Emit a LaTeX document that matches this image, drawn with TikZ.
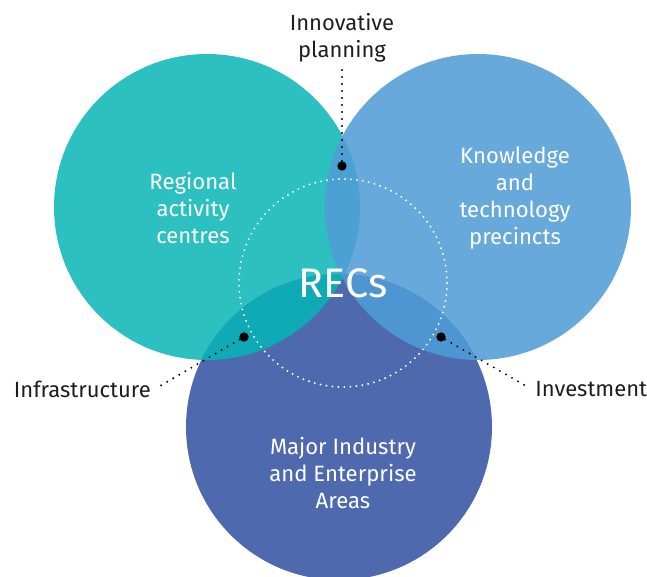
\documentclass[tikz,border=0pt]{standalone}
\usepackage{fontspec}
\setmainfont{Fira Sans}
\usetikzlibrary{positioning}

\definecolor{racTeal}{HTML}{2CC0C1}
\definecolor{ktpBlue}{HTML}{66A9DA}
\definecolor{mieaNavy}{HTML}{4E69AD}
\definecolor{lensTop}{HTML}{4BA1D3}
\definecolor{lensLeft}{HTML}{10A9B6}
\definecolor{lensRight}{HTML}{4D96D1}
\definecolor{inkGrey}{HTML}{1E1E1E}

\begin{document}
\begin{tikzpicture}[x=0.75pt,y=-0.75pt,
   region/.style={text=white,align=center,inner sep=0pt,font=\fontsize{16.6}{20.4}\selectfont},
   callout/.style={text=inkGrey,align=center,inner sep=0pt,font=\fontsize{16.5}{20}\selectfont},
   hub/.style={circle,fill=black,inner sep=0pt,minimum size=7pt},
   leader/.style={draw=black,line width=1.6pt,line cap=round,dash pattern=on 0pt off 5.25pt},
   ring/.style={draw=white,line width=1.6pt,line cap=round,dash pattern=on 0pt off 4.5pt}]
   \useasboundingbox (0,0) rectangle (647,577);

   % circle centres
   \coordinate (rac)  at (207,207);
   \coordinate (ktp)  at (478,207);
   \coordinate (miea) at (339,427);

   \fill[racTeal]  (rac)  circle[radius=153];
   \fill[ktpBlue]  (ktp)  circle[radius=153];
   \begin{scope}
      \clip (rac) circle[radius=153];
      \fill[lensTop] (ktp) circle[radius=153];
   \end{scope}
   \fill[mieaNavy] (miea) circle[radius=153];
   \begin{scope}
      \clip (rac) circle[radius=153];
      \fill[lensLeft] (miea) circle[radius=153];
   \end{scope}
   \begin{scope}
      \clip (ktp) circle[radius=153];
      \fill[lensRight] (miea) circle[radius=153];
   \end{scope}

   \draw[ring] (343,283) circle[radius=104];

   \node[region] (racText)  at (193,208) {Regional\\activity\\centres};
   \node[region] (ktpText)  at (515,198) {Knowledge\\and\\technology\\precincts};
   \node[region] (mieaText) at (343,473) {Major Industry\\and Enterprise\\Areas};
   \node[text=white,inner sep=0pt,font=\fontsize{31}{31}\selectfont] (recs) at (343,283) {RECs};

   % overlap markers
   \node[hub] (ip)  at (342,166) {};
   \node[hub] (inf) at (244,337) {};
   \node[hub] (inv) at (441,337) {};

   \node[callout] (ipText) at (342,38) {Innovative\\planning};
   \node[callout,anchor=east] (infText) at (151,389) {Infrastructure};
   \node[callout,anchor=west] (invText) at (535,389) {Investment};

   \coordinate (ipEnd)  at (342,70);
   \coordinate (infEnd) at (160,386);
   \coordinate (invEnd) at (526,386);

   \path[leader] (ip)  -- (ipEnd);
   \path[leader] (inf) -- (infEnd);
   \path[leader] (inv) -- (invEnd);
\end{tikzpicture}
\end{document}
